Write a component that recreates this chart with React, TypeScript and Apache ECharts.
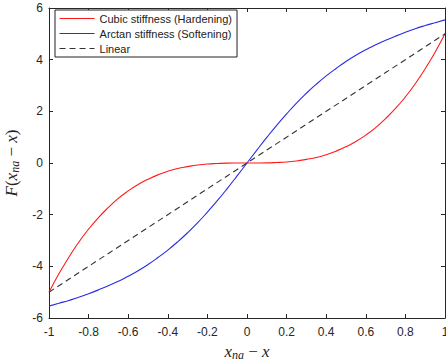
import React, { useEffect, useRef } from "react";
import * as echarts from "echarts";

const xValues: number[] = [
  -1, -0.95, -0.9, -0.85, -0.8, -0.75, -0.7, -0.65, -0.6, -0.55, -0.5, -0.45, -0.4, -0.35, -0.3, -0.25, -0.2, -0.15, -0.1, -0.05,
  0, 0.05, 0.1, 0.15, 0.2, 0.25, 0.3, 0.35, 0.4, 0.45, 0.5, 0.55, 0.6, 0.65, 0.7, 0.75, 0.8, 0.85, 0.9, 0.95, 1,
];
const cubicValues: number[] = [
  -5, -4.29, -3.65, -3.07, -2.56, -2.11, -1.72, -1.37, -1.08, -0.83, -0.63, -0.46, -0.32, -0.21, -0.14, -0.08, -0.04, -0.02, -0.005, -0.001,
  0, 0.001, 0.005, 0.02, 0.04, 0.08, 0.14, 0.21, 0.32, 0.46, 0.63, 0.83, 1.08, 1.37, 1.72, 2.11, 2.56, 3.07, 3.65, 4.29, 5,
];
const arctanValues: number[] = [
  -5.54, -5.43, -5.32, -5.2, -5.06, -4.91, -4.75, -4.58, -4.38, -4.17, -3.93, -3.66, -3.37, -3.05, -2.7, -2.32, -1.9, -1.46, -0.99, -0.5,
  0, 0.5, 0.99, 1.46, 1.9, 2.32, 2.7, 3.05, 3.37, 3.66, 3.93, 4.17, 4.38, 4.58, 4.75, 4.91, 5.06, 5.2, 5.32, 5.43, 5.54,
];
const linearValues: number[] = [
  -5, -4.75, -4.5, -4.25, -4, -3.75, -3.5, -3.25, -3, -2.75, -2.5, -2.25, -2, -1.75, -1.5, -1.25, -1, -0.75, -0.5, -0.25,
  0, 0.25, 0.5, 0.75, 1, 1.25, 1.5, 1.75, 2, 2.25, 2.5, 2.75, 3, 3.25, 3.5, 3.75, 4, 4.25, 4.5, 4.75, 5,
];
const seriesNames: string[] = ["Cubic stiffness (Hardening)", "Arctan stiffness (Softening)", "Linear"];
const seriesColors: string[] = ["#ff1a1a", "#2a2ae6", "#333333"];

const pair = (ys: number[]) => xValues.map((x, i) => [x, ys[i]]);

const axisColor = "#262626";
const labelFont = "'Liberation Sans', Arial, sans-serif";
const serif = "'Liberation Serif', 'DejaVu Serif', serif";
const mathRich = {
  i: { fontFamily: serif, fontStyle: "italic", fontSize: 17, color: "#222" },
  n: { fontFamily: serif, fontSize: 17, color: "#222" },
  s: { fontFamily: serif, fontStyle: "italic", fontSize: 12, color: "#222", padding: [8, 0, 0, 0] },
};

export default function App() {
  const ref = useRef<HTMLDivElement>(null);
  useEffect(() => {
    if (!ref.current) return;
    const chart = echarts.init(ref.current, undefined, { renderer: "svg" });
    const baseX = {
      type: "value" as const,
      min: -1,
      max: 1,
      interval: 0.2,
      axisLine: { show: true, onZero: false, lineStyle: { color: axisColor, width: 1 } },
      axisTick: { show: true, inside: true, length: 4, lineStyle: { color: axisColor } },
      splitLine: { show: false },
    };
    const baseY = {
      type: "value" as const,
      min: -6,
      max: 6,
      interval: 2,
      axisLine: { show: true, onZero: false, lineStyle: { color: axisColor, width: 1 } },
      axisTick: { show: true, inside: true, length: 4, lineStyle: { color: axisColor } },
      splitLine: { show: false },
    };
    const lineTypes: any[] = ["solid", "solid", [6, 4]];
    const lineSeries = (i: number, ys: number[], smooth: boolean) => ({
      name: seriesNames[i],
      type: "line",
      data: pair(ys),
      smooth,
      symbol: "none",
      showSymbol: false,
      lineStyle: { color: seriesColors[i], width: 1.1, type: lineTypes[i] },
      itemStyle: { color: seriesColors[i] },
    });
    chart.setOption({
      animation: false,
      backgroundColor: "#ffffff",
      grid: { left: 49, right: 1, top: 8, bottom: 43, containLabel: false, outerBoundsMode: "none" },
      legend: {
        show: true,
        orient: "vertical",
        left: 55,
        top: 10,
        itemWidth: 35,
        itemHeight: 10,
        itemGap: 4,
        padding: [3, 5, 3, 4],
        borderColor: "#222",
        borderWidth: 1,
        backgroundColor: "#fff",
        itemStyle: { opacity: 0, borderWidth: 0 },
        textStyle: { fontFamily: labelFont, fontSize: 11, color: "#222" },
        data: seriesNames.map((n, i) => ({
          name: n,
          lineStyle: { color: seriesColors[i], width: 1.1, type: lineTypes[i] },
        })),
      },
      xAxis: [
        {
          ...baseX,
          position: "bottom",
          axisLabel: { fontFamily: labelFont, fontSize: 12, color: "#262626", margin: 8, formatter: (v: number) => String(Math.round(v * 10) / 10) },
          name: "{i|x}{s|na}{n| − }{i|x}",
          nameLocation: "middle",
          nameGap: 20,
          nameTextStyle: { rich: mathRich },
        },
        { ...baseX, position: "top", axisLabel: { show: false } },
      ],
      yAxis: [
        {
          ...baseY,
          position: "left",
          axisLabel: { fontFamily: labelFont, fontSize: 12, color: "#262626", margin: 6 },
          name: "{i|F}{n|(}{i|x}{s|na}{n| − }{i|x}{n|)}",
          nameLocation: "middle",
          nameGap: 26,
          nameRotate: 90,
          nameTextStyle: { rich: mathRich },
        },
        { ...baseY, position: "right", axisLabel: { show: false } },
      ],
      series: [
        lineSeries(0, cubicValues, true),
        lineSeries(1, arctanValues, true),
        lineSeries(2, linearValues, false),
      ],
    });
    return () => chart.dispose();
  }, []);
  return <div ref={ref} style={{ width: 446, height: 361, position: "absolute", left: 0, top: 0 }} />;
}
